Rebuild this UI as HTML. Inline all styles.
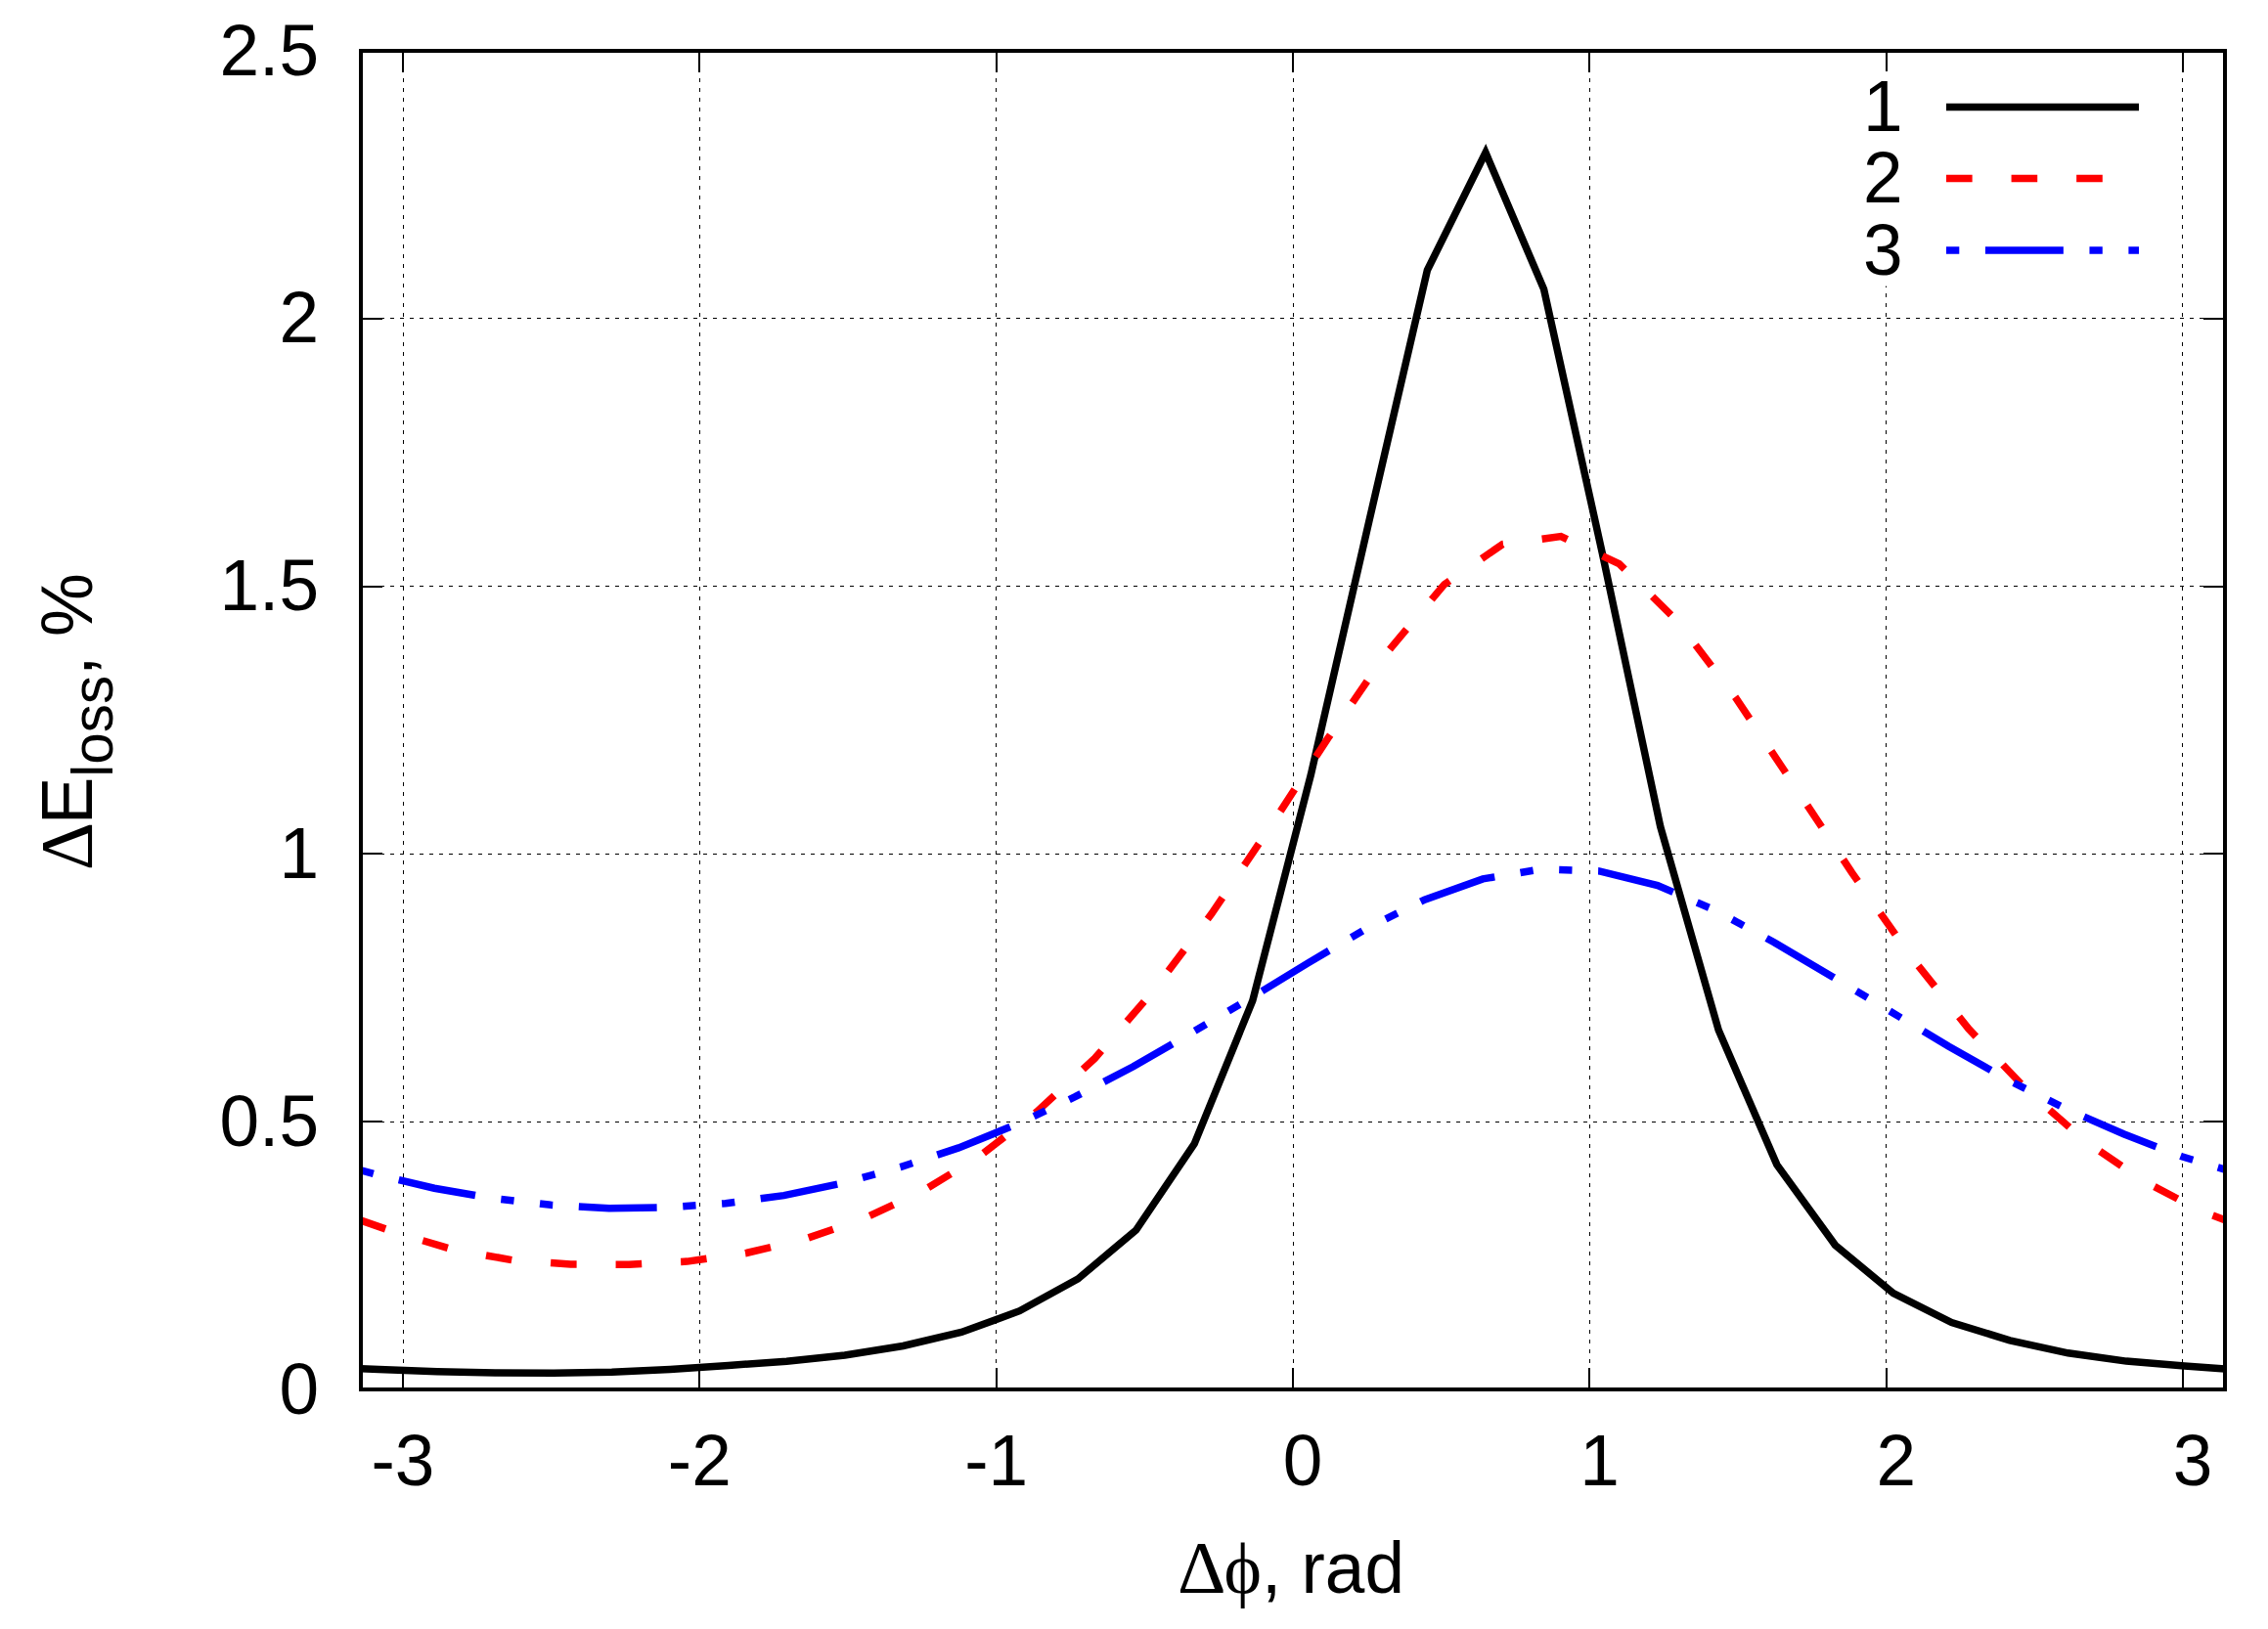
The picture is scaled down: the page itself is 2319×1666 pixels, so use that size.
<!DOCTYPE html>
<html lang="en"><head><meta charset="utf-8"><title>Energy loss vs phase shift</title>
<style>html,body{margin:0;padding:0;background:#fff}body{width:2319px;height:1666px;overflow:hidden}svg{display:block}text{font-family:"Liberation Sans",sans-serif;font-size:73px;fill:#000}.sym{font-family:"Liberation Serif",serif}</style></head><body>
<svg width="2319" height="1666" viewBox="0 0 2319 1666">
<rect x="0" y="0" width="2319" height="1666" fill="#fff"/>
<g id="grid" stroke="#000" stroke-width="1" stroke-dasharray="4 6" fill="none" shape-rendering="crispEdges">
<line x1="412.5" y1="1421.0" x2="412.5" y2="52.0" stroke-dashoffset="2.5"/>
<line x1="715.5" y1="1421.0" x2="715.5" y2="52.0" stroke-dashoffset="2.5"/>
<line x1="1018.5" y1="1421.0" x2="1018.5" y2="52.0" stroke-dashoffset="2.5"/>
<line x1="1322.5" y1="1421.0" x2="1322.5" y2="52.0" stroke-dashoffset="2.5"/>
<line x1="1625.5" y1="1421.0" x2="1625.5" y2="52.0" stroke-dashoffset="2.5"/>
<line x1="1928.5" y1="1421.0" x2="1928.5" y2="52.0" stroke-dashoffset="2.5"/>
<line x1="2231.5" y1="1421.0" x2="2231.5" y2="52.0" stroke-dashoffset="2.5"/>
<line x1="369.0" y1="1147.5" x2="2275.0" y2="1147.5"/>
<line x1="369.0" y1="873.5" x2="2275.0" y2="873.5"/>
<line x1="369.0" y1="599.5" x2="2275.0" y2="599.5"/>
<line x1="369.0" y1="325.5" x2="2275.0" y2="325.5"/>
</g>
<g id="ticks" stroke="#000" stroke-width="2" fill="none" shape-rendering="crispEdges">
<line x1="412.0" y1="1421.0" x2="412.0" y2="1399.0"/>
<line x1="412.0" y1="52.0" x2="412.0" y2="74.0"/>
<line x1="715.0" y1="1421.0" x2="715.0" y2="1399.0"/>
<line x1="715.0" y1="52.0" x2="715.0" y2="74.0"/>
<line x1="1019.0" y1="1421.0" x2="1019.0" y2="1399.0"/>
<line x1="1019.0" y1="52.0" x2="1019.0" y2="74.0"/>
<line x1="1322.0" y1="1421.0" x2="1322.0" y2="1399.0"/>
<line x1="1322.0" y1="52.0" x2="1322.0" y2="74.0"/>
<line x1="1625.0" y1="1421.0" x2="1625.0" y2="1399.0"/>
<line x1="1625.0" y1="52.0" x2="1625.0" y2="74.0"/>
<line x1="1929.0" y1="1421.0" x2="1929.0" y2="1399.0"/>
<line x1="1929.0" y1="52.0" x2="1929.0" y2="74.0"/>
<line x1="2232.0" y1="1421.0" x2="2232.0" y2="1399.0"/>
<line x1="2232.0" y1="52.0" x2="2232.0" y2="74.0"/>
<line x1="369.0" y1="1421.0" x2="391.0" y2="1421.0"/>
<line x1="2275.0" y1="1421.0" x2="2253.0" y2="1421.0"/>
<line x1="369.0" y1="1147.0" x2="391.0" y2="1147.0"/>
<line x1="2275.0" y1="1147.0" x2="2253.0" y2="1147.0"/>
<line x1="369.0" y1="873.0" x2="391.0" y2="873.0"/>
<line x1="2275.0" y1="873.0" x2="2253.0" y2="873.0"/>
<line x1="369.0" y1="600.0" x2="391.0" y2="600.0"/>
<line x1="2275.0" y1="600.0" x2="2253.0" y2="600.0"/>
<line x1="369.0" y1="326.0" x2="391.0" y2="326.0"/>
<line x1="2275.0" y1="326.0" x2="2253.0" y2="326.0"/>
<line x1="369.0" y1="52.0" x2="391.0" y2="52.0"/>
<line x1="2275.0" y1="52.0" x2="2253.0" y2="52.0"/>
</g>
<rect id="keybox" x="1896" y="73" width="300" height="219.6" fill="#fff"/>
<g id="curves" fill="none" stroke-width="7.5" stroke-linejoin="miter" stroke-miterlimit="10" stroke-linecap="butt">
<polyline stroke="#000" points="369.0,1399.8 387.4,1400.6 446.9,1402.8 506.5,1404.0 566.0,1404.3 625.6,1403.3 685.2,1400.4 744.7,1396.5 804.3,1392.2 863.8,1386.0 923.4,1376.5 983.0,1362.5 1042.5,1340.7 1102.1,1308.0 1161.6,1258.0 1221.2,1169.8 1280.8,1023.4 1340.3,792.5 1399.9,532.8 1459.4,276.3 1519.0,156.0 1578.6,295.9 1638.1,564.7 1697.7,845.3 1757.2,1053.6 1816.8,1191.1 1876.4,1273.3 1935.9,1322.6 1995.5,1352.6 2055.0,1370.8 2114.6,1383.8 2174.2,1392.1 2233.7,1396.9 2275.0,1399.9"/>
<polyline stroke="#f00" stroke-dasharray="26.63 39.95" points="369.0,1248.1 404.8,1260.6 464.3,1278.2 523.9,1288.7 583.4,1293.1 643.0,1293.2 702.6,1290.1 762.1,1281.7 821.7,1267.6 881.2,1247.1 940.8,1219.6 1000.4,1183.4 1059.9,1137.2 1119.5,1082.3 1179.0,1013.8 1238.6,934.8 1298.2,846.6 1357.7,755.2 1417.3,668.4 1476.8,597.7 1536.4,556.6 1596.0,548.6 1655.5,576.6 1715.1,635.3 1774.6,713.4 1834.2,802.8 1893.8,892.8 1953.3,977.4 2012.9,1052.2 2072.4,1114.7 2132.0,1167.0 2191.6,1207.7 2251.1,1238.8 2275.0,1247.8"/>
<polyline stroke="#00f" stroke-dasharray="13.31 26.63 79.89 26.63 13.31 26.63" points="369.0,1196.9 384.6,1201.2 444.1,1215.2 503.7,1225.6 563.2,1232.3 622.8,1235.7 682.4,1234.7 741.9,1230.7 801.5,1222.6 861.0,1210.2 920.6,1193.6 980.2,1173.9 1039.7,1149.8 1099.3,1121.7 1158.8,1090.8 1218.4,1056.2 1278.0,1021.2 1337.5,984.9 1397.1,949.7 1456.6,920.1 1516.2,898.9 1575.8,888.9 1635.3,890.9 1694.9,905.5 1754.4,931.3 1814.0,963.7 1873.6,998.9 1933.1,1034.5 1992.7,1070.2 2052.2,1104.0 2111.8,1133.7 2171.4,1159.8 2230.9,1182.8 2275.0,1196.1"/>
<line stroke="#000" x1="1990" y1="109.5" x2="2187" y2="109.5"/>
<line stroke="#f00" stroke-dasharray="26.63 39.95" x1="1990" y1="182.6" x2="2187" y2="182.6"/>
<line stroke="#00f" stroke-dasharray="13.31 26.63 79.89 26.63 13.31 26.63" x1="1990" y1="256" x2="2187" y2="256"/>
</g>
<rect id="border" x="369" y="52" width="1906" height="1369" fill="none" stroke="#000" stroke-width="4" shape-rendering="crispEdges"/>
<g id="labels">
<text transform="translate(326.0,1445.5) scale(1,1.025)" text-anchor="end">0</text>
<text transform="translate(326.0,1171.7) scale(1,1.025)" text-anchor="end">0.5</text>
<text transform="translate(326.0,897.9) scale(1,1.025)" text-anchor="end">1</text>
<text transform="translate(326.0,624.1) scale(1,1.025)" text-anchor="end">1.5</text>
<text transform="translate(326.0,350.3) scale(1,1.025)" text-anchor="end">2</text>
<text transform="translate(326.0,76.5) scale(1,1.025)" text-anchor="end">2.5</text>
<text transform="translate(412.0,1518.9) scale(1,1.025)" text-anchor="middle">-3</text>
<text transform="translate(715.3,1518.9) scale(1,1.025)" text-anchor="middle">-2</text>
<text transform="translate(1018.7,1518.9) scale(1,1.025)" text-anchor="middle">-1</text>
<text transform="translate(1332.1,1518.9) scale(1,1.025)" text-anchor="middle">0</text>
<text transform="translate(1635.5,1518.9) scale(1,1.025)" text-anchor="middle">1</text>
<text transform="translate(1938.8,1518.9) scale(1,1.025)" text-anchor="middle">2</text>
<text transform="translate(2242.1,1518.9) scale(1,1.025)" text-anchor="middle">3</text>
<text transform="translate(1945.5,134.0) scale(1,1.025)" text-anchor="end">1</text>
<text transform="translate(1945.5,207.1) scale(1,1.025)" text-anchor="end">2</text>
<text transform="translate(1945.5,280.5) scale(1,1.025)" text-anchor="end">3</text>
<text transform="translate(1204.1,1628.7) scale(1,1)" class="sym" style="font-size:77px">Δ</text>
<text transform="translate(1251.5,1628.7) scale(1,1)" class="sym" style="font-size:73px">ϕ</text>
<text transform="translate(1290.0,1628.7) scale(1,1.025)">, rad</text>
<text transform="translate(94.0,890.2) rotate(-90) scale(1,1)" class="sym" style="font-size:77px">Δ</text>
<text transform="translate(94.0,843.3) rotate(-90) scale(1,1.025)">E</text>
<text transform="translate(115.0,794.7) rotate(-90) scale(1,1.025)" style="font-size:58.4px">loss</text>
<text transform="translate(94.0,690.9) rotate(-90) scale(1,1.025)">,</text>
<text transform="translate(94.0,651.0) rotate(-90) scale(1,1.025)">%</text>
</g>
</svg></body></html>
